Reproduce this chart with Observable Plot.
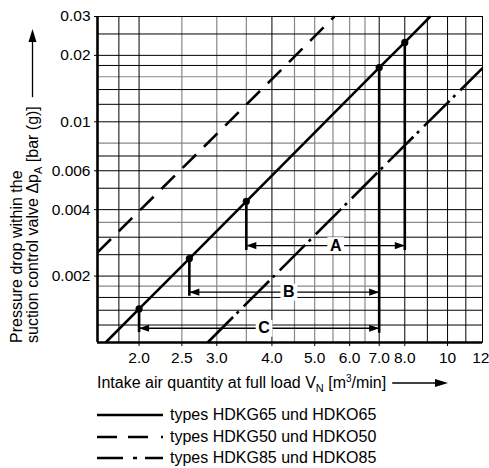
<!DOCTYPE html>
<html><head><meta charset="utf-8">
<script src="https://cdn.jsdelivr.net/npm/d3@7"></script>
<script src="https://cdn.jsdelivr.net/npm/@observablehq/plot@0.6"></script>
<style>
body{margin:0;background:#fff;}
#wrap{position:relative;width:489px;height:468px;font-family:"Liberation Sans",Arial,sans-serif;}
#wrap svg{display:block;}
</style></head><body><div id="wrap"></div>
<script>
// ---- data ----
const xDomain = [1.61, 12];
const yDomain = [0.001, 0.03];
const xTicks = [2, 2.5, 3, 4, 5, 6, 7, 8, 10, 12];
const xTickLabels = ["2.0","2.5","3.0","4.0","5.0","6.0","7.0","8.0","10","12"];
const yTicks = [0.002, 0.004, 0.006, 0.01, 0.02, 0.03];
const yTickLabels = ["0.002","0.004","0.006","0.01","0.02","0.03"];
const xGridDark = [1.8, 2, 4, 7, 8, 9, 10, 11];
const xGridLight = [2.5, 3, 3.5, 4.5, 5, 5.5, 6, 6.5];
const yGridDark = [0.0012, 0.0014, 0.0016, 0.002, 0.0025, 0.003, 0.004, 0.005, 0.006, 0.007, 0.01, 0.012, 0.014, 0.018, 0.02, 0.025];
const yGridLight = [0.0018, 0.0035, 0.008, 0.016];

const hdk65X = [1.68, 2.0, 2.6, 3.5, 7.0, 8.0, 9.14];
const hdk65Y = [0.001, 0.00142, 0.0024, 0.00436, 0.0176, 0.0229, 0.03];
const hdk50X = [1.61, 4.14, 5.54];
const hdk50Y = [0.00256, 0.0167, 0.03];
const hdk85X = [2.86, 7.74, 12];
const hdk85Y = [0.001, 0.00733, 0.0175];

const pointX = [2.0, 2.6, 3.5, 7.0, 8.0];
const pointY = [0.00142, 0.0024, 0.00436, 0.0176, 0.0229];
const dropBottomY = [0.00111, 0.00162, 0.00261, 0.0011, 0.00261];

const rangeNames = ["A", "B", "C"];
const rangeFrom = [3.5, 2.6, 2.0];
const rangeTo = [8.0, 7.0, 7.0];
const rangeY = [0.00275, 0.00169, 0.00116];
const rangeLabelX = [5.58, 4.37, 3.84];

const legendLabels = ["types HDKG65 und HDKO65", "types HDKG50 und HDKO50", "types HDKG85 und HDKO85"];

// ---- build tables ----
const toRows = (xs, ys) => xs.map((x, i) => ({x, y: ys[i]}));
const s65 = toRows(hdk65X, hdk65Y);
const s50 = toRows(hdk50X, hdk50Y);
const s85 = toRows(hdk85X, hdk85Y);
const points = toRows(pointX, pointY);
const drops = pointX.map((x, i) => ({x, y1: pointY[i], y2: dropBottomY[i]}));
const ranges = rangeNames.map((name, i) => ({name, from: rangeFrom[i], to: rangeTo[i], y: rangeY[i], lx: rangeLabelX[i]}));
const xTicksInner = xTicks.slice(0, -1);
const xTickLast = xTicks.slice(-1);

const headRight = {draw(ctx) { ctx.moveTo(0, 0); ctx.lineTo(-10, -3.6); ctx.lineTo(-10, 3.6); ctx.closePath(); }};
const headLeft = {draw(ctx) { ctx.moveTo(0, 0); ctx.lineTo(10, -3.6); ctx.lineTo(10, 3.6); ctx.closePath(); }};

const FONT = '"Liberation Sans", Arial, sans-serif';
const fmtX = d => xTickLabels[xTicks.indexOf(d)];

const chart = Plot.plot({
  width: 489, height: 370,
  marginLeft: 97, marginRight: 7, marginTop: 16, marginBottom: 28,
  style: {fontFamily: FONT, fontSize: "15.5px", background: "white", color: "black", overflow: "visible"},
  x: {type: "log", domain: xDomain},
  y: {type: "log", domain: yDomain},
  marks: [
    Plot.ruleX(xGridLight, {stroke: "#888", strokeWidth: 1.2}),
    Plot.ruleY(yGridLight, {stroke: "#888", strokeWidth: 1.2}),
    Plot.ruleX(xGridDark, {stroke: "#000", strokeWidth: 1}),
    Plot.ruleY(yGridDark, {stroke: "#000", strokeWidth: 1}),
    Plot.frame({stroke: "#000", strokeWidth: 1}),
    Plot.ruleX([xDomain[0]], {stroke: "#000", strokeWidth: 2.6}),
    Plot.ruleY([yDomain[0]], {stroke: "#000", strokeWidth: 2.6}),
    Plot.axisX({ticks: xTicksInner, tickFormat: fmtX, tickSize: 4, tickPadding: 5, label: null, fontSize: 15.5}),
    Plot.axisX({ticks: xTickLast, tickFormat: fmtX, tickSize: 4, tickPadding: 5, label: null, fontSize: 15.5, textAnchor: "end", dx: 7}),
    Plot.axisY({ticks: yTicks, tickFormat: d => yTickLabels[yTicks.indexOf(d)], tickSize: 3, tickPadding: 4, label: null, fontSize: 15.5}),
    Plot.line(s50, {x: "x", y: "y", stroke: "#000", strokeWidth: 2.6, strokeDasharray: "19,11", strokeLinecap: "butt"}),
    Plot.line(s85, {x: "x", y: "y", stroke: "#000", strokeWidth: 2.6, strokeDasharray: "36,5,3,7", strokeLinecap: "butt"}),
    Plot.line(s65, {x: "x", y: "y", stroke: "#000", strokeWidth: 2.6, strokeLinecap: "butt"}),
    Plot.ruleX(drops, {x: "x", y1: "y1", y2: "y2", stroke: "#000", strokeWidth: 2.6}),
    Plot.link(ranges, {x1: "from", x2: "to", y1: "y", y2: "y", stroke: "#000", strokeWidth: 1.3}),
    Plot.dot(ranges, {x: "to", y: "y", symbol: headRight, fill: "#000"}),
    Plot.dot(ranges, {x: "from", y: "y", symbol: headLeft, fill: "#000"}),
    Plot.dot(ranges, {x: "lx", y: "y", symbol: "square", r: 9.5, fill: "white"}),
    Plot.text(ranges, {x: "lx", y: "y", text: "name", fontWeight: "bold", fontSize: 16, fill: "#000"}),
    Plot.dot(points, {x: "x", y: "y", r: 3.6, fill: "#000"})
  ]
});
const wrap = document.getElementById("wrap");
wrap.appendChild(chart);

// y-axis label (rotated, two lines) with arrow
const svg = d3.select(chart);
const yl = svg.append("g").attr("font-family", FONT).attr("font-size", 16).attr("fill", "#000").attr("text-anchor", "start");
yl.append("text").attr("text-anchor", "start").attr("transform", "translate(21.5,343) rotate(-90)").text("Pressure drop within the");
const t2 = yl.append("text").attr("text-anchor", "start").attr("transform", "translate(37.5,343) rotate(-90)");
t2.append("tspan").text("suction control valve Δp");
t2.append("tspan").attr("font-size", 11).attr("dy", 4).text("A");
t2.append("tspan").attr("dy", -4).text(" [bar (g)]");
const len2 = t2.node().getComputedTextLength();
const yArrowStart = 343 - len2 - 9;
yl.append("line").attr("x1", 32.5).attr("x2", 32.5).attr("y1", yArrowStart).attr("y2", 41).attr("stroke", "#000").attr("stroke-width", 1.3);
yl.append("path").attr("d", "M32.5,29L28.5,42L36.5,42Z").attr("fill", "#000");

// x-axis label and legend below the chart
const below = d3.select(wrap).append("svg").attr("width", 489).attr("height", 98)
  .attr("font-family", FONT).attr("font-size", 16).attr("text-anchor", "start");
const xl = below.append("text").attr("x", 97).attr("y", 18).attr("fill", "#000");
xl.append("tspan").text("Intake air quantity at full load V");
xl.append("tspan").attr("font-size", 11).attr("dy", 4).text("N");
xl.append("tspan").attr("dy", -4).text(" [m");
xl.append("tspan").attr("font-size", 10).attr("dy", -6).text("3");
xl.append("tspan").attr("dy", 6).text("/min]");
const xlEnd = 97 + xl.node().getComputedTextLength();
below.append("line").attr("x1", xlEnd + 6).attr("x2", 438).attr("y1", 13).attr("y2", 13).attr("stroke", "#000").attr("stroke-width", 1.3);
below.append("path").attr("d", "M448,13L435,9L435,17Z").attr("fill", "#000");

const legendDash = [null, "20,11,20,13,2,100", "26,10,4,8,30"];
const legendLineY = [45, 67, 88];
legendLabels.forEach((lab, i) => {
  const ln = below.append("line").attr("x1", 97).attr("x2", 163).attr("y1", legendLineY[i]).attr("y2", legendLineY[i])
    .attr("stroke", "#000").attr("stroke-width", 2.6);
  if (legendDash[i]) ln.attr("stroke-dasharray", legendDash[i]);
  below.append("text").attr("x", 170).attr("y", legendLineY[i] + 5).attr("fill", "#000").text(lab);
});
</script>
</body></html>
